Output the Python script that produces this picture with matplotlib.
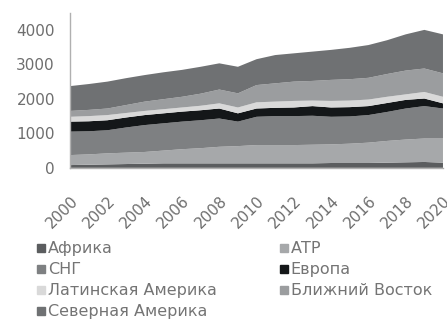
import numpy as np
import matplotlib.pyplot as plt
from matplotlib.lines import Line2D

plt.rcParams['font.family'] = ['DejaVu Sans']

years = np.arange(2000, 2021)

# cumulative boundaries read as stacked totals, converted to layers below
africa_top = [80, 90, 100, 110, 120, 130, 130, 130, 130, 130, 130, 130, 130, 130, 140, 140, 140, 150, 160, 170, 150]
atp_top = [370, 390, 420, 440, 460, 500, 540, 570, 610, 630, 660, 660, 660, 670, 680, 700, 730, 780, 820, 850, 850]
cis_top = [1050, 1060, 1090, 1170, 1240, 1290, 1340, 1380, 1430, 1340, 1480, 1500, 1500, 1510, 1480, 1490, 1530, 1620, 1720, 1790, 1720]
europe_top = [1340, 1350, 1380, 1460, 1530, 1580, 1630, 1670, 1720, 1580, 1720, 1740, 1750, 1790, 1750, 1760, 1790, 1880, 1970, 2010, 1870]
latin_top = [1480, 1500, 1530, 1590, 1650, 1700, 1750, 1800, 1870, 1750, 1900, 1920, 1940, 1950, 1940, 1950, 1980, 2060, 2130, 2200, 2060]
mideast_top = [1650, 1680, 1720, 1820, 1920, 1990, 2060, 2150, 2270, 2160, 2400, 2450, 2500, 2520, 2550, 2570, 2610, 2720, 2820, 2880, 2740]
total = [2370, 2430, 2500, 2600, 2690, 2770, 2840, 2930, 3030, 2930, 3150, 3270, 3320, 3370, 3420, 3480, 3560, 3700, 3870, 4000, 3870]

bounds = [africa_top, atp_top, cis_top, europe_top, latin_top, mideast_top, total]
layers = np.diff(np.vstack([np.zeros(len(years))] + [np.array(b) for b in bounds]), axis=0)

labels = ['Африка', 'АТР', 'СНГ', 'Европа', 'Латинская Америка', 'Ближний Восток', 'Северная Америка']
colors = ['#5b5d5f', '#a6a8aa', '#7e8082', '#141719', '#d9d9d9', '#9b9d9f', '#6f7173']

fig = plt.figure(figsize=(4.47, 3.24), dpi=100)
ax = fig.add_axes([0.157, 0.482, 0.834, 0.479])

ax.stackplot(years, layers, colors=colors, linewidth=0)

ax.set_xlim(2000, 2020)
ax.set_ylim(0, 4500)
ax.set_xticks(np.arange(2000, 2021, 2))
ax.set_yticks([0, 1000, 2000, 3000, 4000])
ax.tick_params(axis='x', rotation=45, labelsize=11, colors='#6e6e6e', length=0, pad=18)
ax.tick_params(axis='y', labelsize=11, colors='#6e6e6e', length=0, pad=11)
for lbl in ax.get_xticklabels():
    lbl.set_ha('right')
    lbl.set_rotation_mode('anchor')
for s in ['top', 'right']:
    ax.spines[s].set_visible(False)
for s in ['left', 'bottom']:
    ax.spines[s].set_color('#b0b0b0')
    ax.spines[s].set_linewidth(1)

# row-wise legend: matplotlib fills columns first, so reorder
order = [0, 2, 4, 6, 1, 3, 5]
handles = [Line2D([], [], marker='s', linestyle='', markersize=5.5, color=colors[i]) for i in order]
fig.legend(handles, [labels[i] for i in order], ncol=2, loc='upper left',
           bbox_to_anchor=(0.065, 0.28), frameon=False, fontsize=11.5,
           labelcolor='#747474', handlelength=0.55, handletextpad=0.15,
           columnspacing=3.9, labelspacing=0.38, borderpad=0)

fig.savefig('out.png', dpi=100)
